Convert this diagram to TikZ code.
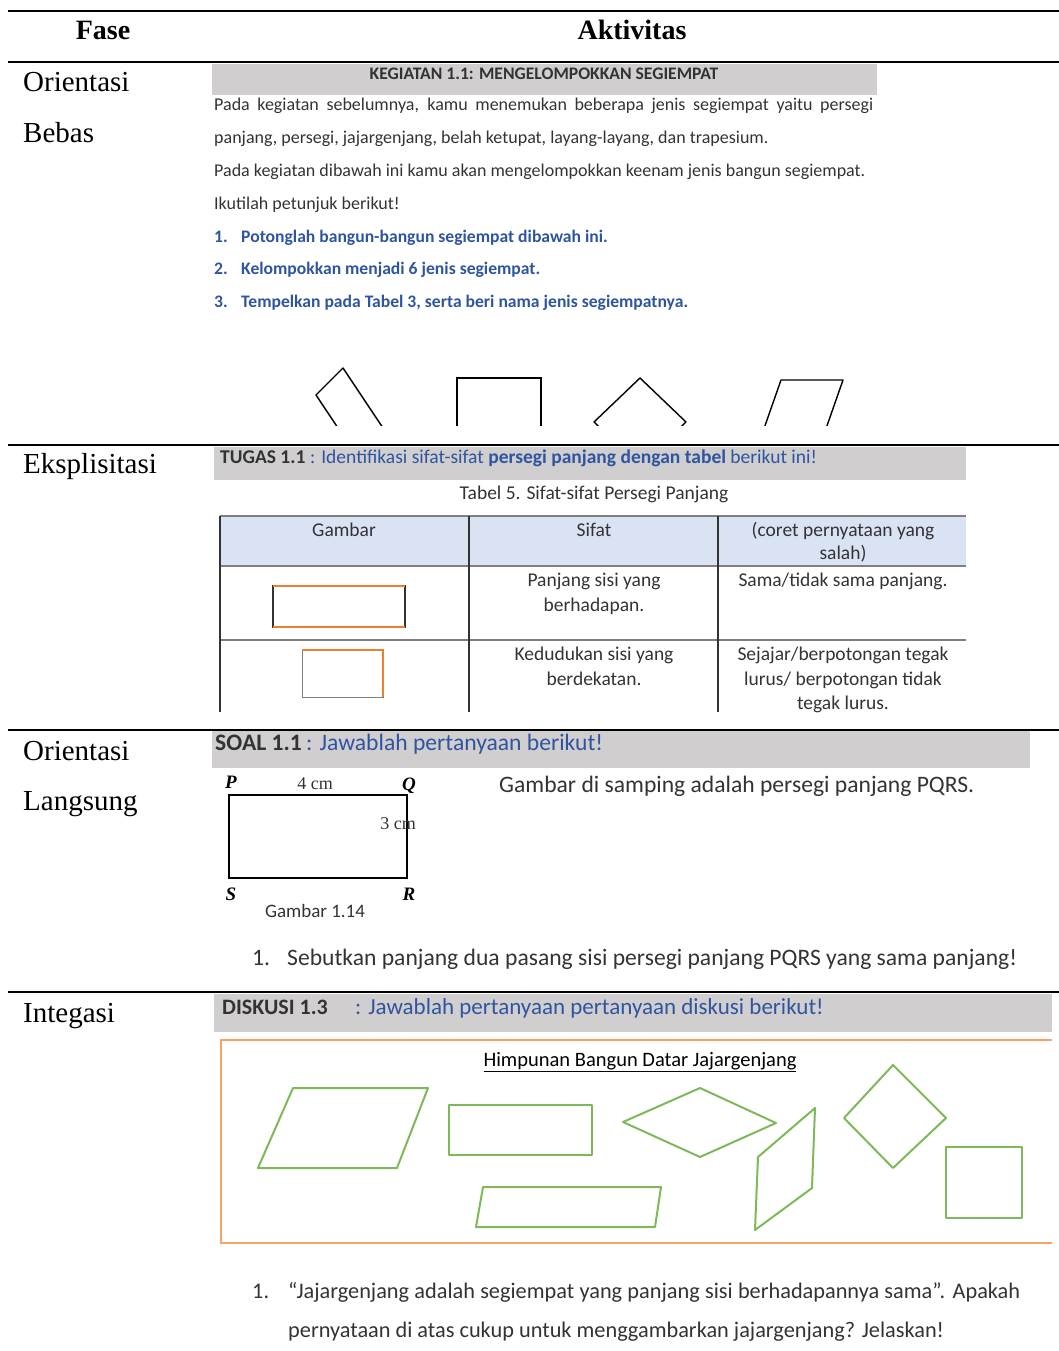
\documentclass[tikz,border=0pt]{standalone}
\usepackage{fontspec}
\setmainfont{Liberation Serif}
\newfontfamily\shotfont{Carlito}
\usepackage{tikz}
\usetikzlibrary{positioning}
\definecolor{abu}{HTML}{D0CECE}
\definecolor{biru}{HTML}{2F55A0}
\definecolor{kepala}{HTML}{DAE3F3}
\definecolor{oranye}{HTML}{ED7D31}
\definecolor{bingkai}{HTML}{F4A46A}
\definecolor{hijau}{HTML}{7DB95A}
\definecolor{teks}{HTML}{333333}
\definecolor{garis}{HTML}{7F7F7F}
\tikzset{
every node/.style={inner sep=0pt, anchor=base west},
fase/.style={font=\fontsize{29}{34}\selectfont},
judul/.style={anchor=base, font=\bfseries\fontsize{28}{32}\selectfont},
rule/.style={line width=2pt},
bar/.style={fill=abu, draw=none},
shot/.style={font=\shotfont\fontsize{18}{21}\selectfont, text=teks},
langkah/.style={font=\shotfont\bfseries\fontsize{17.6}{21}\selectfont, text=biru},
sel/.style={anchor=base, font=\shotfont\fontsize{19.5}{23}\selectfont, text=teks},
besar/.style={font=\shotfont\fontsize{23.6}{28}\selectfont, text=teks},
titik/.style={font=\itshape\bfseries\fontsize{19}{22}\selectfont, anchor=base},
sisi/.style={draw=hijau, line width=2pt, line join=round}
}

\begin{document}
\begin{tikzpicture}[x=1pt,y=-1pt]
\useasboundingbox (0,0) rectangle (1059,1351);

\draw[rule] (8,11) -- (1059,11);
\draw[rule] (8,62) -- (1059,62);
\draw[rule] (8,445) -- (1059,445);
\draw[rule] (8,730) -- (1059,730);
\draw[rule] (8,992) -- (1059,992);

\node[judul] (fase) at (103,40) {Fase};
\node[judul] (aktivitas) at (632,40) {Aktivitas};

\node[fase] (ob1) at (23,92) {Orientasi};
\node[fase] (ob2) at (23,143) {Bebas};
\node[fase] (eks) at (23,473) {Eksplisitasi};
\node[fase] (ol1) at (23,760) {Orientasi};
\node[fase] (ol2) at (23,810) {Langsung};
\node[fase] (int) at (23,1022) {Integasi};

% kegiatan 1.1
\fill[bar] (212,64) rectangle (877,95);
\node[shot, anchor=base, font=\shotfont\bfseries\fontsize{17.6}{20}\selectfont] (keg) at (544,80) {KEGIATAN 1.1: MENGELOMPOKKAN SEGIEMPAT};
\node[shot] (p1) at (214,111) {\makebox[659pt][s]{Pada kegiatan sebelumnya, kamu menemukan beberapa jenis segiempat yaitu persegi}};
\node[shot] (p2) at (214,144) {panjang, persegi, jajargenjang, belah ketupat, layang-layang, dan trapesium.};
\node[shot] (p3) at (214,177) {Pada kegiatan dibawah ini kamu akan mengelompokkan keenam jenis bangun segiempat.};
\node[shot] (p4) at (214,209) {Ikutilah petunjuk berikut!};
\node[langkah] (n1) at (214,242) {1.};
\node[langkah] (l1) at (241,242) {Potonglah bangun-bangun segiempat dibawah ini.};
\node[langkah] (n2) at (214,274) {2.};
\node[langkah] (l2) at (241,274) {Kelompokkan menjadi 6 jenis segiempat.};
\node[langkah] (n3) at (214,307) {3.};
\node[langkah] (l3) at (241,307) {Tempelkan pada Tabel 3, serta beri nama jenis segiempatnya.};
\begin{scope}
\clip (200,330) rectangle (900,425);
\draw[line width=1.4pt, line join=round] (316,395) -- (343,368) -- (393,443) -- (366,470) -- cycle;
\draw[line width=1.4pt] (457,378) rectangle (541,470);
\draw[line width=2.2pt] (457,378) -- (541,378);
\draw[line width=1.4pt, line join=round] (640,378) -- (686,422) -- (640,466) -- (594,422) -- cycle;
\draw[line width=1.4pt, line join=round] (781,380) -- (843,380) -- (815,460) -- (753,460) -- cycle;
\end{scope}

% tugas 1.1
\fill[bar] (214,447) rectangle (966,480);
\node[shot, font=\shotfont\bfseries\fontsize{19.5}{23}\selectfont] (tugas) at (220,463) {TUGAS 1.1};
\node[shot, text=biru, font=\shotfont\fontsize{19.5}{23}\selectfont, right=0pt of tugas.base east, anchor=base west] (tugasisi) {\ : Identifikasi sifat-sifat \textbf{persegi panjang dengan tabel} berikut ini!};
\node[sel] (tabel) at (594,499) {Tabel 5. Sifat-sifat Persegi Panjang};
\fill[kepala] (220,516) rectangle (966,566);
\draw[garis, line width=2.5pt] (220,516) -- (966,516);
\draw[garis, line width=1.5pt] (220,566) -- (966,566);
\draw[garis, line width=2.5pt] (220,640) -- (966,640);
\draw[teks, line width=1.2pt] (220,516) -- (220,712);
\draw[teks, line width=1.2pt] (469,516) -- (469,712);
\draw[teks, line width=1.2pt] (718,516) -- (718,712);
\node[sel] (gambar) at (344,536) {Gambar};
\node[sel] (sifat) at (594,536) {Sifat};
\node[sel] (coret1) at (843,536) {(coret pernyataan yang};
\node[sel] (coret2) at (843,559) {salah)};
\draw[teks, line width=1.2pt] (273,586) rectangle (405,627);
\draw[oranye, line width=2.5pt] (273,586) -- (405,586);
\draw[oranye, line width=1.5pt] (273,627) -- (405,627);
\node[sel] (s1a) at (594,586) {Panjang sisi yang};
\node[sel] (s1b) at (594,611) {berhadapan.};
\node[sel] (j1) at (843,586) {Sama/tidak sama panjang.};
\draw[garis, line width=1pt] (302,650) rectangle (383,697);
\draw[oranye, line width=1.5pt] (302,650) -- (383,650) -- (383,697);
\node[sel] (s2a) at (594,660) {Kedudukan sisi yang};
\node[sel] (s2b) at (594,685) {berdekatan.};
\node[sel] (j2a) at (843,660) {Sejajar/berpotongan tegak};
\node[sel] (j2b) at (843,685) {lurus/ berpotongan tidak};
\node[sel] (j2c) at (843,709) {tegak lurus.};

% soal 1.1
\fill[bar] (212,731) rectangle (1030,768);
\node[besar, font=\shotfont\bfseries\fontsize{23.6}{28}\selectfont] (soal) at (215,750) {SOAL 1.1};
\node[besar, text=biru, right=0pt of soal.base east, anchor=base west] (soalisi) {\,: Jawablah pertanyaan berikut!};
\draw[line width=1.6pt] (229,795) rectangle (407,878);
\node[titik] (P) at (231,788) {P};
\node[titik] (Q) at (409,790) {Q};
\node[titik] (S) at (231,900) {S};
\node[titik] (R) at (409,900) {R};
\node[sel, font=\fontsize{18}{20}\selectfont] (empat) at (315,789) {4 cm};
\node[sel, font=\fontsize{18}{20}\selectfont] (tiga) at (398,829) {3 cm};
\node[sel, font=\shotfont\fontsize{19}{22}\selectfont] (gbr) at (315,917) {Gambar 1.14};
\node[besar] (samping) at (499,792) {Gambar di samping adalah persegi panjang PQRS.};
\node[besar] (m1) at (252,965) {1.};
\node[besar] (t1) at (287,965) {Sebutkan panjang dua pasang sisi persegi panjang PQRS yang sama panjang!};

% diskusi 1.3
\fill[bar] (214,994) rectangle (1052,1032);
\node[besar, font=\shotfont\bfseries\fontsize{22}{26}\selectfont] (disk) at (222,1014) {DISKUSI 1.3};
\node[besar, text=biru, font=\shotfont\fontsize{23}{27}\selectfont] (diskisi) at (355,1014) {: Jawablah pertanyaan pertanyaan diskusi berikut!};
\draw[bingkai, line width=2pt] (1052,1040) -- (221,1040) -- (221,1243) -- (1052,1243);
\node[sel, text=black, font=\shotfont\fontsize{20.5}{24}\selectfont] (himp) at (640,1066) {\underline{Himpunan Bangun Datar Jajargenjang}};
\draw[sisi] (293,1088) -- (428,1088) -- (397,1168) -- (258,1168) -- cycle;
\draw[sisi] (449,1105) rectangle (592,1155);
\draw[sisi] (623,1122) -- (700,1088) -- (776,1123) -- (700,1157) -- cycle;
\draw[sisi] (758,1157) -- (815,1108) -- (812,1188) -- (755,1230) -- cycle;
\draw[sisi] (893,1065) -- (946,1118) -- (893,1168) -- (844,1118) -- cycle;
\draw[sisi] (946,1147) rectangle (1022,1218);
\draw[sisi] (483,1187) -- (661,1187) -- (655,1227) -- (476,1227) -- cycle;
\node[besar, font=\shotfont\fontsize{22.3}{26}\selectfont] (m2) at (252,1298) {1.};
\node[besar, font=\shotfont\fontsize{22.3}{26}\selectfont] (t2) at (288,1298) {\makebox[732pt][s]{“Jajargenjang adalah segiempat yang panjang sisi berhadapannya sama”. Apakah}};
\node[besar, font=\shotfont\fontsize{22.3}{26}\selectfont] (t3) at (288,1337) {pernyataan di atas cukup untuk menggambarkan jajargenjang? Jelaskan!};
\end{tikzpicture}
\end{document}
